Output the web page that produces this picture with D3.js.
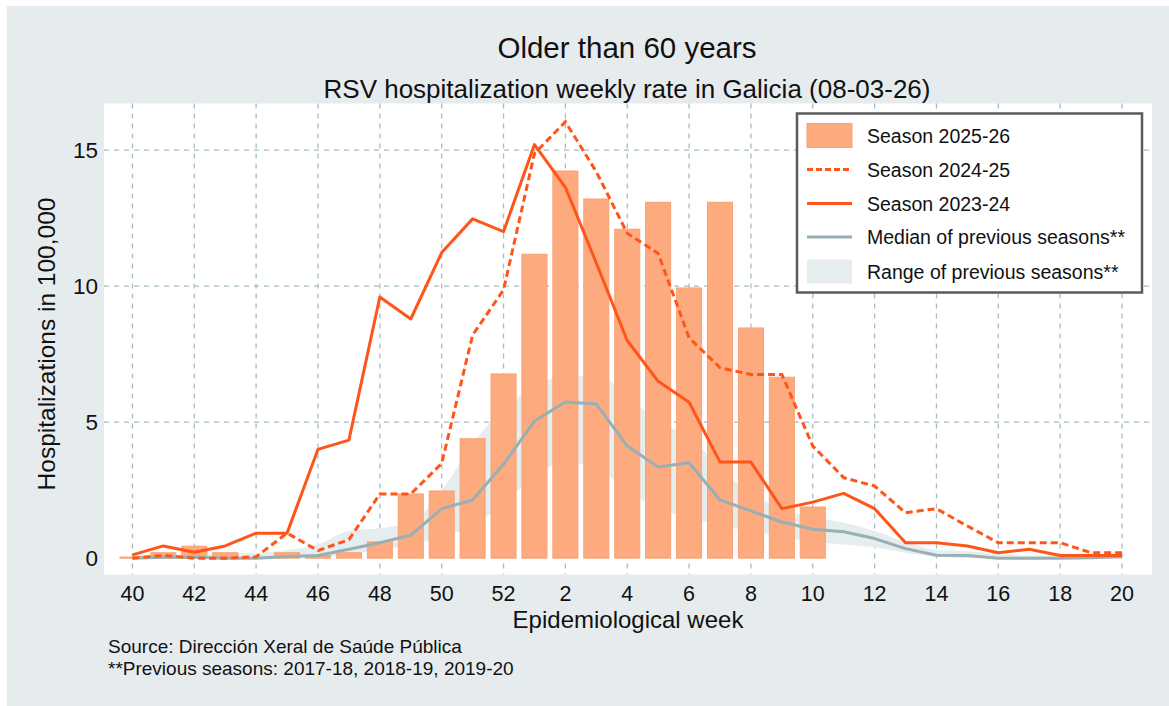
<!DOCTYPE html>
<html lang="en">
<head>
<meta charset="UTF-8"/>
<title>RSV hospitalization weekly rate - Older than 60 years</title>
<script src="https://cdn.jsdelivr.net/npm/d3@7"></script>
<style>
  body { margin: 0; background: #fff; }
  svg text { font-family: Arial, "Liberation Sans", sans-serif; fill: #111; }
</style>
</head>
<body>
<script>
var w = 1169;
var h = 706;

// epidemiological weeks (x categories)
var weeks = [40, 41, 42, 43, 44, 45, 46, 47, 48, 49, 50, 51, 52,
             1, 2, 3, 4, 5, 6, 7, 8, 9, 10, 11, 12, 13, 14, 15, 16, 17, 18, 19, 20];
var weekTicks = [40, 42, 44, 46, 48, 50, 52, 2, 4, 6, 8, 10, 12, 14, 16, 18, 20];
var yTicks = [0, 5, 10, 15];

// Season 2025-26 (bars, weeks 40..10)
var season2526 = [0.04, 0.2, 0.44, 0.2, 0.03, 0.2, 0.1, 0.2, 0.6, 2.36, 2.47, 4.39, 6.77,
                  11.17, 14.23, 13.2, 12.09, 13.08, 9.93, 13.08, 8.46, 6.65, 1.88];
// Season 2024-25 (dashed)
var season2425 = [0.0, 0.1, 0.0, 0.0, 0.05, 0.92, 0.28, 0.68, 2.36, 2.36, 3.48, 8.2, 9.86,
                  14.87, 16.04, 14.2, 11.94, 11.2, 8.1, 7.0, 6.75, 6.75, 4.12, 2.96, 2.65,
                  1.67, 1.82, 1.18, 0.57, 0.57, 0.57, 0.2, 0.2];
// Season 2023-24 (solid)
var season2324 = [0.12, 0.45, 0.22, 0.45, 0.92, 0.92, 4.0, 4.34, 9.6, 8.79, 11.23, 12.47, 12.0,
                  15.2, 13.63, 10.85, 8.0, 6.5, 5.73, 3.53, 3.53, 1.82, 2.06, 2.38, 1.82,
                  0.57, 0.57, 0.45, 0.2, 0.33, 0.1, 0.1, 0.1];
// median of previous seasons
var median = [0, 0.03, 0.03, 0, 0, 0.06, 0.1, 0.33, 0.57, 0.84, 1.82, 2.14, 3.45,
              5.04, 5.74, 5.67, 4.12, 3.35, 3.51, 2.14, 1.74, 1.33, 1.06, 0.97, 0.72,
              0.35, 0.11, 0.1, 0, 0, 0, 0.02, 0.05];
// range of previous seasons
var rangeMin = [0, 0, 0, 0, 0, 0, 0.02, 0.15, 0.3, 0.5, 0.8, 1.2, 2.0,
                3.0, 3.5, 3.3, 2.5, 1.8, 1.5, 1.2, 1.0, 0.8, 0.6, 0.5, 0.4,
                0.2, 0.05, 0, 0, 0, 0, 0, 0];
var rangeMax = [0.1, 0.1, 0.15, 0.2, 0.2, 0.3, 0.5, 1.0, 1.1, 1.3, 2.5, 4.2, 5.5,
                6.3, 6.7, 6.7, 6.0, 5.0, 4.5, 3.3, 2.4, 1.8, 1.5, 1.3, 1.0,
                0.6, 0.3, 0.25, 0.15, 0.1, 0.1, 0.1, 0.1];

var orange = "#ff5519";
var barFill = "#fdaa7f";
var medianColor = "#98afb4";
var bandColor = "#e6edef";

var plot = { left: 104, right: 1152, top: 103.5, bottom: 574.5 };

var xScale = d3.scaleLinear()
  .domain([-0.92, 32.97])
  .range([plot.left, plot.right]);

var yScale = d3.scaleLinear()
  .domain([-0.6, 16.71])
  .range([plot.bottom, plot.top]);

var svg = d3.select("body").append("svg")
  .attr("width", w)
  .attr("height", h);

// outer background
svg.append("rect")
  .attr("x", 7).attr("y", 6)
  .attr("width", w - 7).attr("height", h - 6)
  .attr("fill", "#e6ecee");

// plot area
svg.append("rect")
  .attr("x", plot.left).attr("y", plot.top)
  .attr("width", plot.right - plot.left).attr("height", plot.bottom - plot.top)
  .attr("fill", "#fff");

// grid
var grid = svg.append("g")
  .attr("stroke", "#a6bec3")
  .attr("stroke-width", 1.3)
  .attr("stroke-dasharray", "5,5");

grid.selectAll("line.v")
  .data(weekTicks)
  .enter().append("line")
  .attr("class", "v")
  .attr("x1", function(d) { return xScale(weeks.indexOf(d)); })
  .attr("x2", function(d) { return xScale(weeks.indexOf(d)); })
  .attr("y1", plot.top)
  .attr("y2", plot.bottom);

grid.selectAll("line.h")
  .data(yTicks.filter(function(d) { return d > 0; }))
  .enter().append("line")
  .attr("class", "h")
  .attr("x1", plot.left)
  .attr("x2", plot.right)
  .attr("y1", function(d) { return yScale(d); })
  .attr("y2", function(d) { return yScale(d); });

// range band
var area = d3.area()
  .x(function(d, i) { return xScale(i); })
  .y0(function(d, i) { return yScale(rangeMin[i]); })
  .y1(function(d, i) { return yScale(rangeMax[i]); })
  .curve(d3.curveMonotoneX);

svg.append("path")
  .datum(rangeMax)
  .attr("d", area)
  .attr("fill", bandColor);

// bars
var step = xScale(1) - xScale(0);
var barW = step * 0.81;

svg.selectAll("rect.bar")
  .data(season2526)
  .enter().append("rect")
  .attr("class", "bar")
  .attr("x", function(d, i) { return xScale(i) - barW / 2; })
  .attr("y", function(d) { return yScale(d); })
  .attr("width", barW)
  .attr("height", function(d) { return yScale(0) - yScale(d); })
  .attr("fill", barFill)
  .attr("stroke", "#f8a274")
  .attr("stroke-width", 1);

var line = d3.line()
  .x(function(d, i) { return xScale(i); })
  .y(function(d) { return yScale(d); });

svg.append("path")
  .datum(median)
  .attr("d", line)
  .attr("fill", "none")
  .attr("stroke", medianColor)
  .attr("stroke-width", 3)
  .attr("stroke-linejoin", "round");

svg.append("path")
  .datum(season2425)
  .attr("d", line)
  .attr("fill", "none")
  .attr("stroke", orange)
  .attr("stroke-width", 3)
  .attr("stroke-dasharray", "7,4");

svg.append("path")
  .datum(season2324)
  .attr("d", line)
  .attr("fill", "none")
  .attr("stroke", orange)
  .attr("stroke-width", 3)
  .attr("stroke-linejoin", "round");

// axis labels
svg.selectAll("text.ytick")
  .data(yTicks)
  .enter().append("text")
  .attr("class", "ytick")
  .attr("x", 98)
  .attr("y", function(d) { return yScale(d) + 8; })
  .attr("text-anchor", "end")
  .attr("font-size", "22.5px")
  .text(function(d) { return d; });

svg.selectAll("text.xtick")
  .data(weekTicks)
  .enter().append("text")
  .attr("class", "xtick")
  .attr("x", function(d) { return xScale(weeks.indexOf(d)); })
  .attr("y", 601)
  .attr("text-anchor", "middle")
  .attr("font-size", "21.5px")
  .text(function(d) { return d; });

svg.append("text")
  .attr("transform", "translate(55,344) rotate(-90)")
  .attr("text-anchor", "middle")
  .attr("font-size", "24.5px")
  .text("Hospitalizations in 100,000");

svg.append("text")
  .attr("x", 628).attr("y", 627.5)
  .attr("text-anchor", "middle")
  .attr("font-size", "24px")
  .text("Epidemiological week");

// titles
svg.append("text")
  .attr("x", 627).attr("y", 58)
  .attr("text-anchor", "middle")
  .attr("font-size", "29.5px")
  .text("Older than 60 years");

svg.append("text")
  .attr("x", 627).attr("y", 98)
  .attr("text-anchor", "middle")
  .attr("font-size", "26px")
  .text("RSV hospitalization weekly rate in Galicia (08-03-26)");

// notes
svg.append("text")
  .attr("x", 108).attr("y", 653)
  .attr("font-size", "19px")
  .text("Source: Dirección Xeral de Saúde Pública");

svg.append("text")
  .attr("x", 108).attr("y", 674.5)
  .attr("font-size", "19px")
  .text("**Previous seasons: 2017-18, 2018-19, 2019-20");

// legend
var legend = svg.append("g");
legend.append("rect")
  .attr("x", 797).attr("y", 113.5)
  .attr("width", 345).attr("height", 179)
  .attr("fill", "#fff")
  .attr("stroke", "#5a5a5a")
  .attr("stroke-width", 2.5);

var legendItems = [
  { label: "Season 2025-26", kind: "bar" },
  { label: "Season 2024-25", kind: "dash" },
  { label: "Season 2023-24", kind: "solid" },
  { label: "Median of previous seasons**", kind: "median" },
  { label: "Range of previous seasons**", kind: "band" }
];
var legendY = [135.5, 169.5, 203.5, 237, 271.5];

legendItems.forEach(function(d, i) {
  var cy = legendY[i];
  if (d.kind === "bar" || d.kind === "band") {
    legend.append("rect")
      .attr("x", 807).attr("y", cy - 12)
      .attr("width", 45).attr("height", 24)
      .attr("fill", d.kind === "bar" ? barFill : bandColor)
      .attr("stroke", d.kind === "bar" ? "#f8a274" : "none");
  } else {
    legend.append("line")
      .attr("x1", 807).attr("x2", 852)
      .attr("y1", cy).attr("y2", cy)
      .attr("stroke", d.kind === "median" ? medianColor : orange)
      .attr("stroke-width", 3)
      .attr("stroke-dasharray", d.kind === "dash" ? "6,3" : null);
  }
  legend.append("text")
    .attr("x", 867).attr("y", cy + 7)
    .attr("font-size", "19.5px")
    .text(d.label);
});
</script>
</body>
</html>
